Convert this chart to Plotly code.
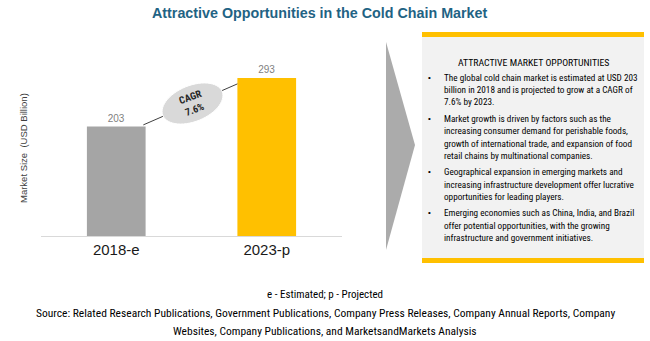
import math
import plotly.graph_objects as go

W, H = 650, 341

# ---- data ----
categories = ["2018-e", "2023-p"]
values = [203, 293]
bar_colors = ["#A5A5A5", "#FFC000"]
cagr_label = "CAGR<br>7.6%"
title = "Attractive Opportunities in the Cold Chain Market"
y_title = "Market Size  (USD Billion)"
box_header = "ATTRACTIVE MARKET OPPORTUNITIES"
bullets = [
    ["The global cold chain market is estimated at USD 203",
     "billion in 2018 and is projected to grow at a CAGR of",
     "7.6% by 2023."],
    ["Market growth is driven by factors such as the",
     "increasing consumer demand for perishable foods,",
     "growth of international trade, and expansion of food",
     "retail chains by multinational companies."],
    ["Geographical expansion in emerging markets and",
     "increasing infrastructure development offer lucrative",
     "opportunities for leading players."],
    ["Emerging economies such as China, India, and Brazil",
     "offer potential opportunities, with the growing",
     "infrastructure and government initiatives."],
]
footnote = "e - Estimated; p - Projected"
source_lines = [
    "Source: Related Research Publications, Government Publications, Company Press Releases, Company Annual Reports, Company",
    "Websites, Company Publications, and MarketsandMarkets Analysis",
]


def px(x):
    return x / W


def py(y):
    return 1 - y / H


NARROW = "Liberation Sans Narrow, Arial Narrow, Roboto Condensed, Arial, sans-serif"

fig = go.Figure()
fig.add_trace(go.Bar(
    x=categories, y=values, marker=dict(color=bar_colors, line=dict(width=0)),
    width=0.39, text=[str(v) for v in values], textposition="outside",
    textfont=dict(size=10, color="#7F7F7F", family="Arial"),
    cliponaxis=False, hoverinfo="skip",
))

shapes = []
# connector line between bar tops (data coords)
shapes.append(dict(type="line", xref="x", yref="y", x0=0.18, y0=206, x1=0.805, y1=282,
                   line=dict(color="#404040", width=1)))
# rotated CAGR ellipse
cx, cy, a, b, ang = 192.5, 103.5, 32, 18, math.radians(22)
pts = []
for i in range(60):
    t = 2 * math.pi * i / 60
    xx = cx + a * math.cos(t) * math.cos(ang) + b * math.sin(t) * math.sin(ang)
    yy = cy - a * math.cos(t) * math.sin(ang) + b * math.sin(t) * math.cos(ang)
    pts.append(f"{px(xx):.5f},{py(yy):.5f}")
shapes.append(dict(type="path", xref="paper", yref="paper",
                   path="M" + " L".join(pts) + " Z",
                   fillcolor="#D9D9D9", line=dict(color="#FFFFFF", width=1)))
# grey chevron triangle
shapes.append(dict(type="path", xref="paper", yref="paper",
                   path=f"M{px(386)},{py(42)} L{px(415)},{py(145)} L{px(386)},{py(250)} Z",
                   fillcolor="#ABABAB", line=dict(width=0)))
# right box
shapes.append(dict(type="rect", xref="paper", yref="paper",
                   x0=px(422), x1=px(644), y0=py(263), y1=py(32),
                   fillcolor="#F2F2F2", line=dict(width=0)))
shapes.append(dict(type="rect", xref="paper", yref="paper",
                   x0=px(422), x1=px(644), y0=py(37), y1=py(32),
                   fillcolor="#FFC000", line=dict(width=0)))
shapes.append(dict(type="rect", xref="paper", yref="paper",
                   x0=px(422), x1=px(644), y0=py(263), y1=py(258),
                   fillcolor="#FFC000", line=dict(width=0)))

ann = []
ann.append(dict(text=f"<b>{title}</b>", x=px(319), y=py(13), xref="paper", yref="paper",
                showarrow=False, font=dict(size=14.3, color="#1F6384", family="Arial"),
                xanchor="center", yanchor="middle"))
ann.append(dict(text=y_title, x=px(23), y=py(148), xref="paper", yref="paper",
                showarrow=False, textangle=-90, font=dict(size=9.5, color="#404040", family="Arial"),
                xanchor="center", yanchor="middle"))
ann.append(dict(text=f"<b>{cagr_label}</b>", x=px(193), y=py(103.5), xref="paper", yref="paper",
                showarrow=False, textangle=-20, font=dict(size=10, color="#262626", family=NARROW),
                xanchor="center", yanchor="middle"))
ann.append(dict(text=box_header, x=px(533), y=py(62), xref="paper", yref="paper",
                showarrow=False, font=dict(size=9.8, color="#000000", family=NARROW),
                xanchor="center", yanchor="middle"))
y = 77.3
for para in bullets:
    ann.append(dict(text="•", x=px(429), y=py(y), xref="paper", yref="paper", showarrow=False,
                    font=dict(size=8, color="#000000", family="Arial"),
                    xanchor="center", yanchor="middle"))
    for line in para:
        ann.append(dict(text=line, x=px(442), y=py(y), xref="paper", yref="paper", showarrow=False,
                        font=dict(size=9.2, color="#000000", family=NARROW),
                        xanchor="left", yanchor="middle"))
        y += 12.3
    y += 4.2
ann.append(dict(text=footnote, x=px(325), y=py(294), xref="paper", yref="paper", showarrow=False,
                font=dict(size=11, color="#000000", family=NARROW), xanchor="center", yanchor="middle"))
for i, s in enumerate(source_lines):
    ann.append(dict(text=s, x=px(325), y=py(313 + 18 * i), xref="paper", yref="paper", showarrow=False,
                    font=dict(size=11.5, color="#000000", family=NARROW),
                    xanchor="center", yanchor="middle"))

fig.update_layout(
    width=W, height=H, margin=dict(l=0, r=0, t=0, b=0),
    paper_bgcolor="white", plot_bgcolor="white", showlegend=False,
    shapes=shapes, annotations=ann,
    xaxis=dict(domain=[px(41), px(342)], range=[-0.5, 1.5], showline=True, linecolor="#D9D9D9",
               linewidth=1, ticks="", showgrid=False, zeroline=False,
               tickfont=dict(size=15, color="#1A1A1A", family="Arial")),
    yaxis=dict(domain=[py(236), py(58)], range=[0, 330], showticklabels=False, showgrid=False,
               zeroline=False, showline=False, ticks=""),
)
fig.write_html("out.html")
